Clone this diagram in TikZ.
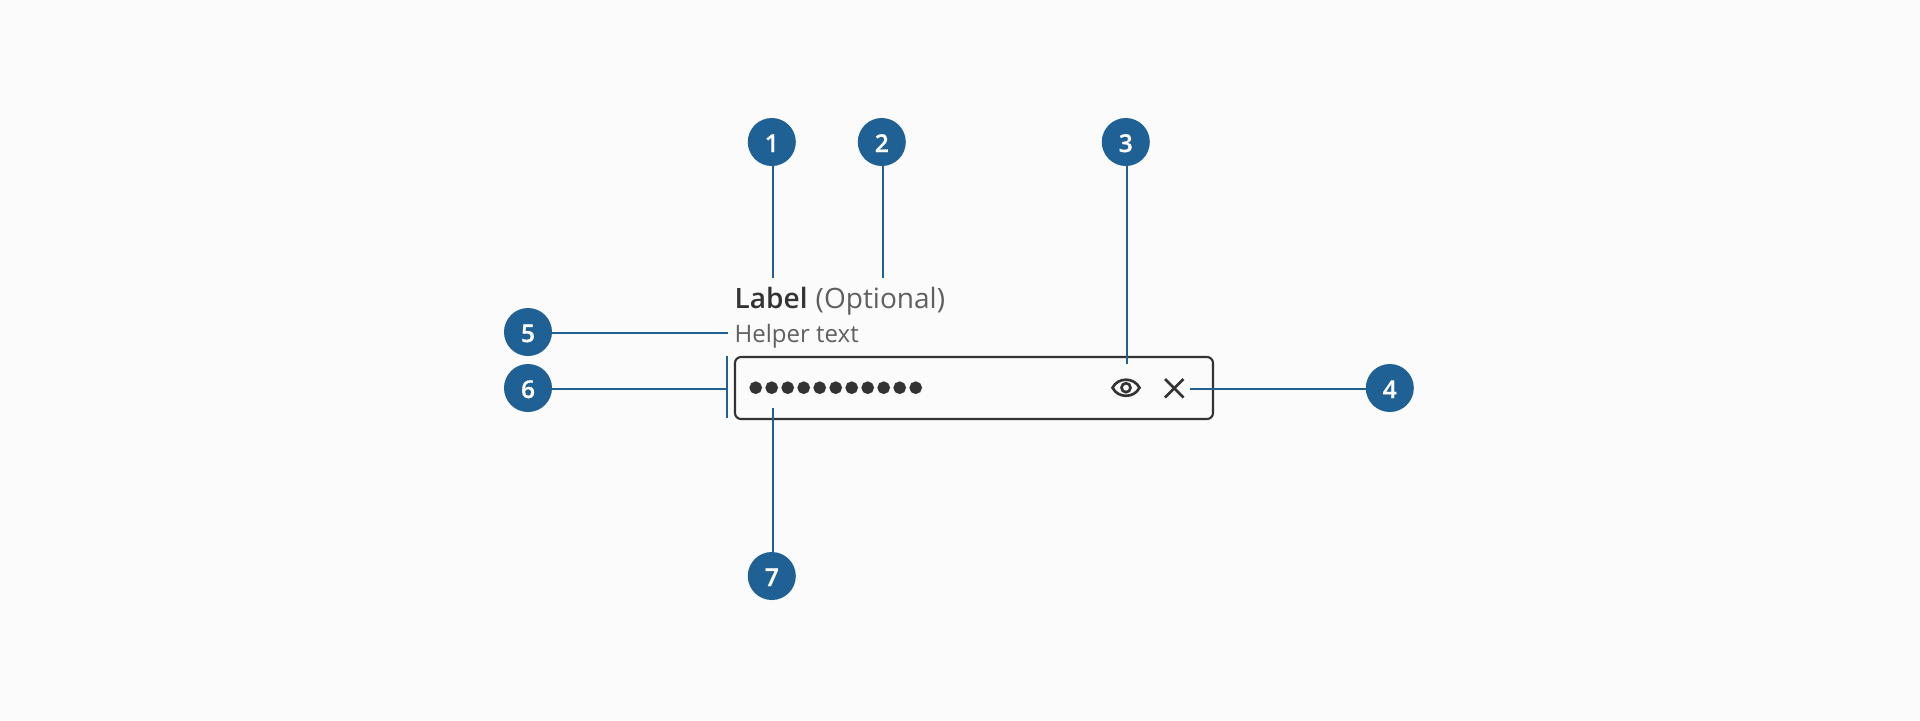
\documentclass[tikz,border=0pt]{standalone}
\usepackage{fontspec}
\setmainfont{Open Sans}
\newfontfamily\semifont{Open Sans Semibold}
\newfontfamily\digitfont[FakeBold=0.6]{Open Sans Semibold}
\usepackage{tikz}
\definecolor{pagegray}{HTML}{FBFBFB}
\definecolor{calloutblue}{HTML}{1F6194}
\definecolor{inkgray}{HTML}{333333}
\definecolor{softgray}{HTML}{606060}
\tikzset{
  callout/.style={circle,fill=calloutblue,text=white,minimum size=0.48cm,inner sep=0pt,outer sep=0pt,text height=5.7pt,text depth=0pt,font=\digitfont\fontsize{7}{8}\selectfont},
  leader/.style={calloutblue,line width=0.57pt},
  glyph/.style={inkgray,line width=0.6pt},
  icon/.style={inkgray,line width=0.75pt},
  fieldtext/.style={anchor=base west,inner sep=0pt}
}
\begin{document}
\begin{tikzpicture}[x=0.01cm,y=-0.01cm]
\useasboundingbox (0,0) rectangle (1920,720);
\fill[pagegray] (0,0) rectangle (1920,720);
% input box
\draw[glyph,rounded corners=0.06cm] (735,357) rectangle (1213,419);
\foreach \i in {0,...,10}
{
\filldraw [inkgray] (755.7+16*\i,387.7) circle (0.056cm);
}
% eye icon
\draw[icon] (1112.5,387.7) .. controls (1118,377) and (1134,377) .. (1139.5,387.7) .. controls (1134,398.5) and (1118,398.5) .. (1112.5,387.7) -- cycle;
\draw[icon] (1126,387.7) circle (0.045cm);
% clear icon
\draw[icon] (1165,379) -- (1183.5,397.5);
\draw[icon] (1183.5,379) -- (1165,397.5);
% texts
\node[fieldtext,text=inkgray,font=\semifont\fontsize{7.97}{10}\selectfont] (label) at (734,308) {Label};
\node[fieldtext,text=softgray,font=\fontsize{7.97}{10}\selectfont] (optional) at (815,308) {(Optional)};
\node[fieldtext,text=softgray,font=\fontsize{6.83}{9}\selectfont] (helper) at (734,342.7) {Helper text};
% callouts
\node[callout] (n1) at (771.8,142) {1};
\node[callout] (n2) at (881.8,142) {2};
\node[callout] (n3) at (1125.8,142) {3};
\node[callout] (n4) at (1389.8,388) {4};
\node[callout] (n5) at (528,332) {5};
\node[callout] (n6) at (528,388) {6};
\node[callout] (n7) at (771.8,576) {7};
\coordinate (e1) at (772.7,278);
\coordinate (e2) at (882.7,278);
\coordinate (e3) at (1126.7,364);
\coordinate (e4) at (1190,388.7);
\coordinate (e5) at (728,332.7);
\coordinate (e6) at (727,388.7);
\coordinate (e7) at (772.7,408);
\coordinate (bartop) at (727,356);
\coordinate (barbot) at (727,418);
\draw[leader] (n1.south -| e1) -- (e1);
\draw[leader] (n2.south -| e2) -- (e2);
\draw[leader] (n3.south -| e3) -- (e3);
\draw[leader] (n4.west |- e4) -- (e4);
\draw[leader] (n5.east |- e5) -- (e5);
\draw[leader] (n6.east |- e6) -- (e6);
\draw[leader] (n7.north -| e7) -- (e7);
\draw[leader] (bartop) -- (barbot);
\end{tikzpicture}
\end{document}
